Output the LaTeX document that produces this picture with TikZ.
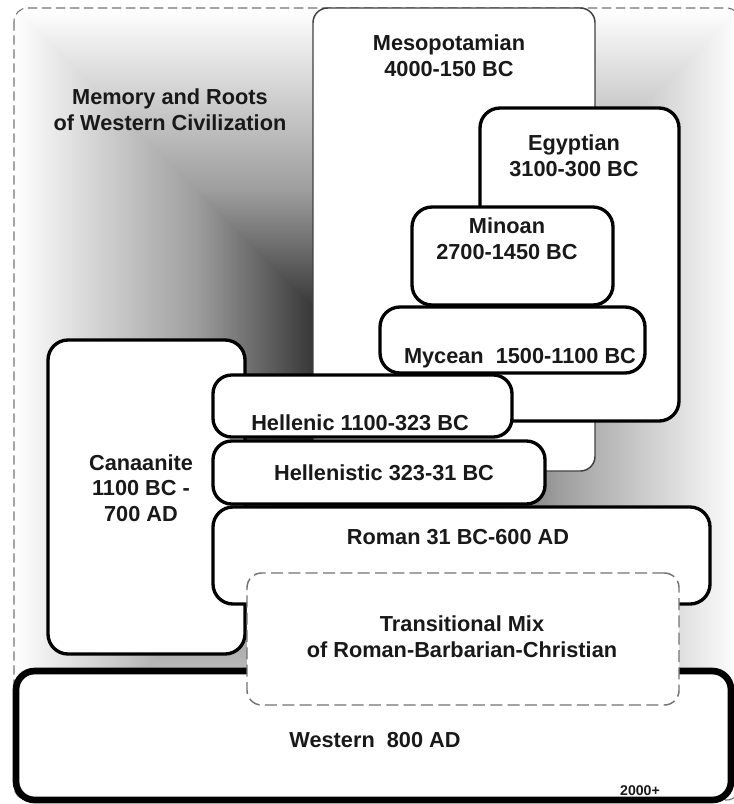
\documentclass[tikz,border=0pt]{standalone}
\usepackage{fontspec}
\setmainfont{Liberation Sans}
\usetikzlibrary{fit}
\begin{document}
\begin{tikzpicture}[x=0.75pt,y=-0.75pt,
  box/.style={draw=black, line width=2.5pt, fill=white, rounded corners=14pt, inner sep=0pt},
  thinbox/.style={draw=black!75, line width=1.1pt, fill=white, rounded corners=11pt, inner sep=0pt},
  transbox/.style={draw=black!55, line width=1.1pt, dash pattern=on 9pt off 4pt, fill=white, rounded corners=11pt, inner sep=0pt},
  westbox/.style={draw=black, line width=5pt, fill=white, rounded corners=14pt, inner sep=0pt},
  frame/.style={draw=black!55, line width=0.8pt, dash pattern=on 7pt off 3.5pt, rounded corners=10pt},
  lbl/.style={font=\bfseries\fontsize{16.3}{19.2}\selectfont, align=center, inner sep=0pt, text=black!90},
  small/.style={font=\bfseries\fontsize{10.6}{12}\selectfont, inner sep=0pt, text=black!90}
]
\useasboundingbox (0,0) rectangle (734,804);
\clip (0,0) rectangle (734,804);
% background gradient (rectangular, dark toward the centre)
\coordinate (TL) at (14,8);
\coordinate (TR) at (740,8);
\coordinate (BR) at (740,800);
\coordinate (BL) at (14,800);
\coordinate (C1) at (377,371);
\coordinate (C2) at (377,437);
\coordinate (TM) at (377,8);
\coordinate (BM) at (377,800);
\shade[left color=white, right color=black, middle color=black!38] (TL) rectangle (BM);
\shade[left color=black, right color=white, middle color=black!38] (TM) rectangle (BR);
\shade[top color=white, bottom color=black, middle color=black!38] (TL) -- (TR) -- (C1) -- cycle;
\shade[top color=black, bottom color=white, middle color=black!38] (BL) -- (C2) -- (BR) -- cycle;
\draw[frame] (TL) rectangle (BR);

% boxes
\node[thinbox, fit={(313,8) (595,471)}] (meso) {};
\node[box, rounded corners=15pt, fit={(480,108) (679,421)}] (egypt) {};
\node[box, rounded corners=15pt, fit={(412,207) (613,305)}] (minoan) {};
\node[box, rounded corners=15pt, fit={(380,307) (645,373)}] (mycean) {};
\node[box, rounded corners=15pt, fit={(48,340) (245,654)}] (canaan) {};
\node[box, fit={(213,375) (512,437)}] (hellenic) {};
\node[box, fit={(213,441) (545,504)}] (hellenistic) {};
\node[box, rounded corners=15pt, fit={(213,507) (710,604)}] (roman) {};
\node[westbox, fit={(16,671) (731,800)}] (western) {};
\node[transbox, fit={(247,573) (679,705)}] (trans) {};

% labels
\node[lbl] (tmemory) at (170,110) {Memory and Roots\\of Western Civilization};
\node[lbl] (tmeso) at (449,56) {Mesopotamian\\4000-150 BC};
\node[lbl] (tegypt) at (574,155.5) {Egyptian\\3100-300 BC};
\node[lbl] (tminoan) at (507,239) {Minoan\\2700-1450 BC};
\node[lbl, anchor=base] (tmycean) at (520,363) {Mycean\ \ 1500-1100 BC};
\node[lbl, anchor=base] (thellenic) at (360,430) {Hellenic 1100-323 BC};
\node[lbl, anchor=base] (thellenistic) at (384,480) {Hellenistic 323-31 BC};
\node[lbl, anchor=base] (troman) at (458,544) {Roman 31 BC-600 AD};
\node[lbl] (tcanaan) at (141,488) {Canaanite\\1100 BC -\\700 AD};
\node[lbl] (ttrans) at (462,637) {Transitional Mix\\of Roman-Barbarian-Christian};
\node[lbl, anchor=base] (twestern) at (375,747) {Western\ \ 800 AD};
\node[small, anchor=base] (t2000) at (640,795) {2000+};
\end{tikzpicture}
\end{document}
